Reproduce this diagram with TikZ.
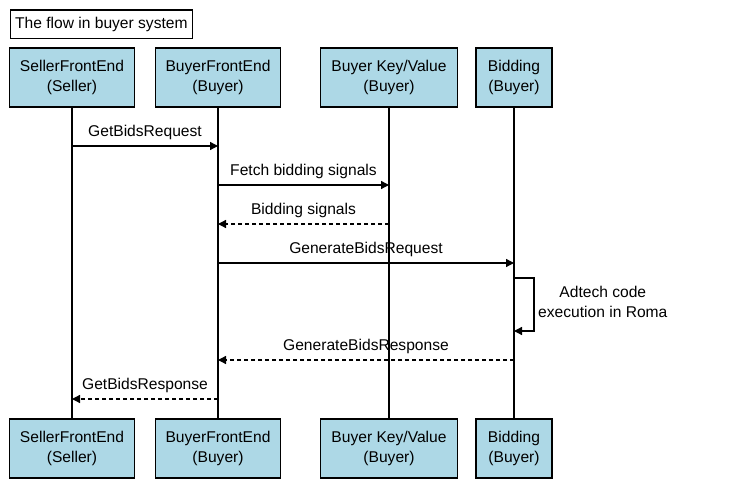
\documentclass[tikz,border=0pt]{standalone}
\usepackage{fontspec}
\setmainfont{Liberation Sans}
\usetikzlibrary{arrows.meta,positioning,calc}
\definecolor{actB}{HTML}{ADD8E6}

\begin{document}
\begin{tikzpicture}[x=1pt,y=-1pt,every node/.style={font=\fontsize{15.6}{20}\selectfont},
  actor/.style={draw,line width=1.6pt,fill=actB,minimum height=59pt,align=center,inner sep=0pt},
  life/.style={line width=1.5pt},
  msg/.style={line width=1.3pt,-{Triangle[length=8pt,width=8pt]}},
  reply/.style={msg,dash pattern=on 4pt off 3pt}]
  \useasboundingbox (0,0) rectangle (753,497);
  \node[draw,line width=1.2pt,anchor=north west,minimum height=28.5pt,inner xsep=5pt,inner ysep=0pt] (title) at (9.5,9.5) {The flow in buyer system};
  % participants, top and bottom
  \foreach \n/\x/\w/\l in {sfe/72/125/{SellerFrontEnd\\(Seller)},bfe/218/125/{BuyerFrontEnd\\(Buyer)},
      bkv/389/137/{Buyer Key/Value\\(Buyer)},bid/514/76/{Bidding\\(Buyer)}}{
    \node[actor,minimum width=\w pt] (\n-top) at (\x,77.5) {\l};
    \node[actor,minimum width=\w pt] (\n-bot) at (\x,448.5) {\l};
    \draw[life] (\n-top) -- (\n-bot);
  }
  % messages
  \draw[msg] (sfe-top |- 0,146) -- node[above=2pt] {GetBidsRequest} (bfe-top |- 0,146);
  \draw[msg] (bfe-top |- 0,185) -- node[above=2pt] {Fetch bidding signals} (bkv-top |- 0,185);
  \draw[reply] (bkv-top |- 0,224) -- node[above=2pt] {Bidding signals} (bfe-top |- 0,224);
  \draw[msg] (bfe-top |- 0,263) -- node[above=2pt] {GenerateBidsRequest} (bid-top |- 0,263);
  \draw[msg] (bid-top |- 0,278) -- ++(20,0) |- (bid-top |- 0,331);
  \node[anchor=west,align=center,inner sep=0pt] (roma) at (538,302) {Adtech code\\execution in Roma};
  \draw[reply] (bid-top |- 0,360) -- node[above=2pt] {GenerateBidsResponse} (bfe-top |- 0,360);
  \draw[reply] (bfe-top |- 0,399) -- node[above=2pt] {GetBidsResponse} (sfe-top |- 0,399);
\end{tikzpicture}
\end{document}
